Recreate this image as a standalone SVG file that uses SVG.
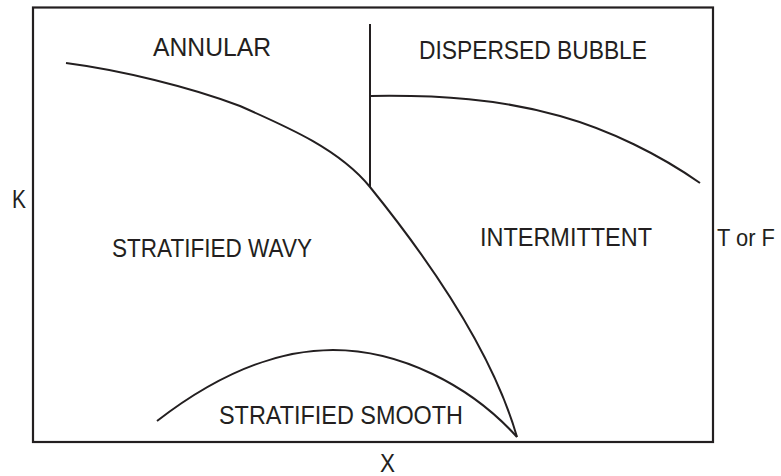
<svg xmlns="http://www.w3.org/2000/svg" width="781" height="476" viewBox="0 0 781 476">
<style>
.lbl{font-family:"Liberation Sans",Arial,sans-serif;font-size:25px;fill:#231f20}
.ln{fill:none;stroke:#231f20;stroke-width:2;stroke-linecap:butt}
</style>
<rect x="0" y="0" width="781" height="476" fill="#ffffff"/>
<g id="frame"><rect x="33" y="7.5" width="680" height="434.5" fill="none" stroke="#231f20" stroke-width="2.2"/></g>
<g id="boundaries">
<path class="ln" d="M66,63 C120,70 190,87 240,106 C290,128 340,150 370,187 C425,255 492,350 517,437"/>
<path class="ln" d="M370,24 L370,187"/>
<path class="ln" d="M371,96 C440,95 500,99 560,116 C610,130 660,155 700,183"/>
<path class="ln" d="M157,421 C210,380 270,350 333,350 C400,350 470,385 517,437"/>
</g>
<g id="labels">
<text class="lbl" x="153" y="55.5" textLength="118" lengthAdjust="spacingAndGlyphs">ANNULAR</text>
<text class="lbl" x="419" y="59" textLength="228" lengthAdjust="spacingAndGlyphs">DISPERSED BUBBLE</text>
<text class="lbl" x="12" y="208" textLength="14" lengthAdjust="spacingAndGlyphs">K</text>
<text class="lbl" x="112" y="257" textLength="200" lengthAdjust="spacingAndGlyphs">STRATIFIED WAVY</text>
<text class="lbl" x="480" y="246" textLength="172" lengthAdjust="spacingAndGlyphs">INTERMITTENT</text>
<text class="lbl" x="717" y="246" style="font-size:23px" textLength="58" lengthAdjust="spacingAndGlyphs">T or F</text>
<text class="lbl" x="219" y="424" textLength="244" lengthAdjust="spacingAndGlyphs">STRATIFIED SMOOTH</text>
<text class="lbl" x="380" y="472" textLength="15" lengthAdjust="spacingAndGlyphs">X</text>
</g>
</svg>
